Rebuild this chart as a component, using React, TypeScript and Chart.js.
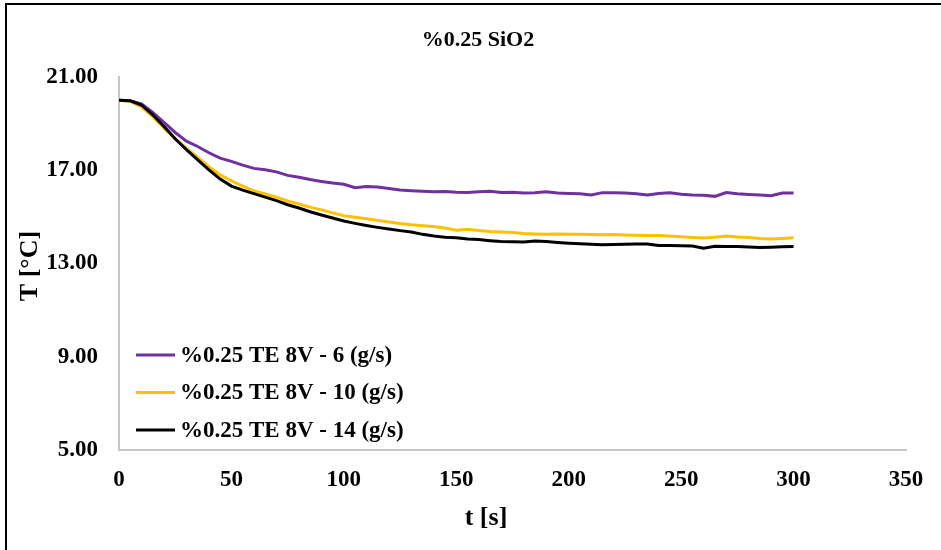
import React, { useEffect, useRef } from "react";
import { Chart, registerables } from "chart.js";

Chart.register(...registerables);

const chartTitle = "%0.25 SiO2";
const xAxisTitle = "t [s]";
const yAxisTitle = "T [°C]";
const seriesLabels = ["%0.25 TE 8V - 6 (g/s)", "%0.25 TE 8V - 10 (g/s)", "%0.25 TE 8V - 14 (g/s)"];
const seriesColors = ["#7030A0", "#FFC000", "#000000"];

const timeS = [
  0, 5, 10, 15, 20, 25, 30, 35, 40, 45, 50, 55, 60, 65, 70, 75, 80, 85, 90, 95,
  100, 105, 110, 115, 120, 125, 130, 135, 140, 145, 150, 155, 160, 165, 170, 175, 180, 185, 190, 195,
  200, 205, 210, 215, 220, 225, 230, 235, 240, 245, 250, 255, 260, 265, 270, 275, 280, 285, 290, 295, 300,
];

const te6 = [
  20.0, 19.97, 19.85, 19.48, 19.05, 18.62, 18.25, 18.02, 17.75, 17.52, 17.38, 17.22, 17.08, 17.02, 16.93, 16.78, 16.7, 16.6, 16.52, 16.45,
  16.4, 16.25, 16.3, 16.28, 16.22, 16.15, 16.12, 16.1, 16.08, 16.09, 16.06, 16.05, 16.08, 16.1, 16.05, 16.06, 16.02, 16.04, 16.08, 16.02,
  16.0, 15.99, 15.94, 16.04, 16.04, 16.02, 15.99, 15.94, 16.0, 16.03, 15.97, 15.94, 15.93, 15.88, 16.04, 15.99, 15.96, 15.94, 15.91, 16.02, 16.02,
];

const te10 = [
  20.0, 19.95, 19.72, 19.3, 18.82, 18.35, 17.95, 17.55, 17.15, 16.8, 16.55, 16.32, 16.12, 15.98, 15.85, 15.68, 15.55, 15.42, 15.3, 15.17,
  15.05, 14.98, 14.92, 14.85, 14.78, 14.72, 14.66, 14.62, 14.59, 14.52, 14.43, 14.47, 14.42, 14.37, 14.35, 14.33, 14.29, 14.27, 14.26, 14.27,
  14.26, 14.25, 14.24, 14.23, 14.24, 14.22, 14.21, 14.2, 14.2, 14.18, 14.15, 14.12, 14.09, 14.13, 14.18, 14.14, 14.12, 14.07, 14.05, 14.07, 14.1,
];

const te14 = [
  20.0, 19.98, 19.8, 19.38, 18.88, 18.35, 17.88, 17.45, 17.02, 16.62, 16.32, 16.15, 16.0, 15.85, 15.7, 15.52, 15.38, 15.22, 15.08, 14.95,
  14.82, 14.72, 14.63, 14.55, 14.48, 14.41, 14.35, 14.25, 14.18, 14.13, 14.1, 14.05, 14.03, 13.98, 13.94, 13.93, 13.92, 13.96, 13.94, 13.9,
  13.87, 13.85, 13.83, 13.8, 13.82, 13.83, 13.84, 13.84, 13.77, 13.77, 13.76, 13.75, 13.66, 13.74, 13.73, 13.73, 13.71, 13.69, 13.7, 13.72, 13.73,
];

const seriesValues = [te6, te10, te14];

const FONT = '"Liberation Serif", "Times New Roman", serif';

const overlayPlugin = {
  id: "overlayText",
  afterDraw(chart: any) {
    const ctx = chart.ctx as CanvasRenderingContext2D;
    const area = chart.chartArea;
    ctx.save();
    ctx.fillStyle = "#000";
    ctx.textBaseline = "middle";
    ctx.textAlign = "center";
    // chart title
    ctx.font = `bold 22px ${FONT}`;
    ctx.fillText(chartTitle, 478, 40);
    // x axis title
    ctx.font = `bold 26px ${FONT}`;
    ctx.fillText(xAxisTitle, 486, 518);
    // y axis title
    ctx.save();
    ctx.translate(30, 266);
    ctx.rotate(-Math.PI / 2);
    ctx.fillText(yAxisTitle, 0, 0);
    ctx.restore();
    // legend
    ctx.textAlign = "left";
    ctx.font = `bold 23px ${FONT}`;
    chart.data.datasets.forEach((ds: any, i: number) => {
      const y = 355 + i * 37.5;
      ctx.strokeStyle = ds.borderColor;
      ctx.lineWidth = 3;
      ctx.beginPath();
      ctx.moveTo(area.left + 17, y);
      ctx.lineTo(area.left + 56, y);
      ctx.stroke();
      ctx.fillStyle = "#000";
      ctx.fillText(ds.label, area.left + 61, y + 1);
    });
    ctx.restore();
  },
};

export default function App() {
  const canvasRef = useRef<HTMLCanvasElement | null>(null);

  useEffect(() => {
    const canvas = canvasRef.current;
    if (!canvas) return;
    const chart = new Chart(canvas, {
      type: "line",
      data: {
        datasets: seriesLabels.map((label, i) => ({
          label,
          data: timeS.map((t, j) => ({ x: t, y: seriesValues[i][j] })),
          borderColor: seriesColors[i],
          backgroundColor: seriesColors[i],
          borderWidth: 3,
          pointRadius: 0,
          tension: 0,
          fill: false,
          order: 3 - i,
        })),
      },
      options: {
        responsive: false,
        animation: false,
        devicePixelRatio: 1,
        layout: { padding: { top: 77, left: 0, right: 35, bottom: 0 } },
        plugins: {
          legend: { display: false },
          title: { display: false },
          tooltip: { enabled: false },
        },
        scales: {
          x: {
            type: "linear",
            min: 0,
            max: 350,
            ticks: {
              stepSize: 50,
              maxRotation: 0,
              autoSkip: false,
              padding: 16,
              color: "#000",
              font: { family: FONT, size: 23, weight: "bold" },
            },
            grid: { display: false, drawTicks: false },
            border: { display: true, color: "#c6c6c6", width: 2 },
            afterFit: (scale: any) => {
              scale.height = 100;
            },
          },
          y: {
            type: "linear",
            min: 5,
            max: 21,
            ticks: {
              stepSize: 4,
              padding: 21,
              color: "#000",
              font: { family: FONT, size: 23, weight: "bold" },
              callback: (v: any) => Number(v).toFixed(2),
            },
            grid: { display: false, drawTicks: false },
            border: { display: true, color: "#c6c6c6", width: 2 },
            afterFit: (scale: any) => {
              scale.width = 119;
            },
          },
        },
      },
      plugins: [overlayPlugin],
    });
    return () => chart.destroy();
  }, []);

  return (
    <div style={{ position: "fixed", left: 0, top: 0, width: 941, height: 550, background: "#fff", overflow: "hidden" }}>
      <canvas ref={canvasRef} width={941} height={550} style={{ display: "block", width: 941, height: 550 }} />
      <div
        style={{
          position: "absolute",
          left: 5,
          top: 3,
          width: 940,
          height: 550,
          borderLeft: "2px solid #000",
          borderTop: "2px solid #000",
          pointerEvents: "none",
        }}
      />
    </div>
  );
}
